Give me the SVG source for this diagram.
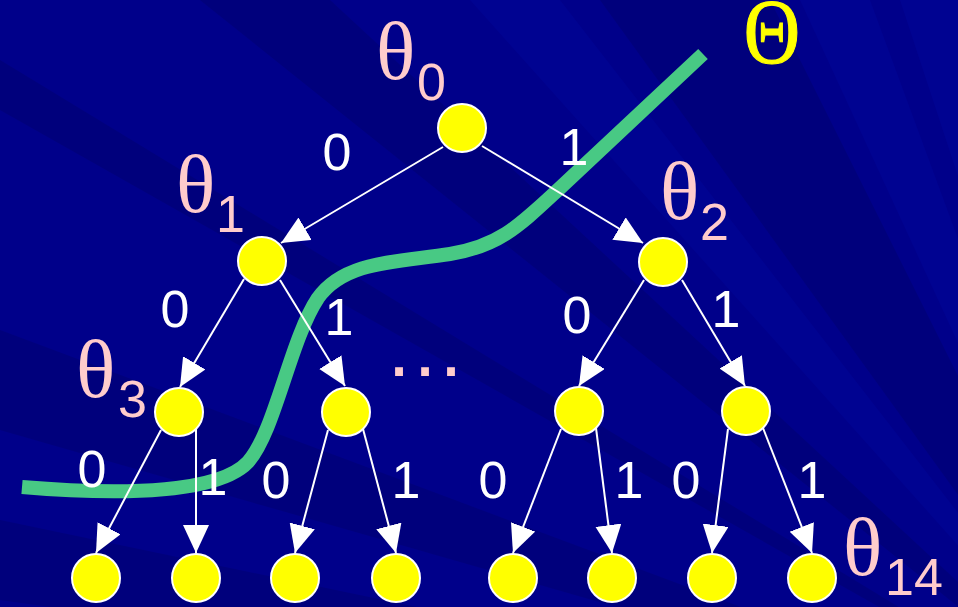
<svg xmlns="http://www.w3.org/2000/svg" width="958" height="607" viewBox="0 0 958 607">
<defs>
<style>
.bg-d{fill:#00005c;opacity:0.3}
.bg-l{fill:#0010b8;opacity:0.16}
.node{fill:#ffff00;stroke:#ffffff;stroke-width:2}
.edge{stroke:#ffffff;stroke-width:2;fill:none;marker-end:url(#ah)}
.lbl{font-family:"Liberation Sans",Arial,sans-serif;font-size:52px;fill:#ffffff;text-anchor:middle}
.th{font-family:"Liberation Serif","Times New Roman",serif;font-size:82px;fill:#ffcccc}
.sub{font-family:"Liberation Sans",Arial,sans-serif;font-size:52px;fill:#ffcccc}
</style>
<marker id="ah" markerUnits="userSpaceOnUse" markerWidth="30" markerHeight="28" refX="28" refY="13" orient="auto">
<path d="M0,0 L28,13 L0,26 Z" fill="#ffffff"/>
</marker>
</defs>
<g id="background">
<rect x="0" y="0" width="958" height="607" fill="#00008a"/>
<polygon class="bg-d" points="1150,760 -1700,-1520 -1310,-1520"/>
<polygon class="bg-l" points="1150,760 -890,-1520 -620,-1520"/>
<polygon class="bg-d" points="1150,760 -500,-1520 10,-1520"/>
<polygon class="bg-l" points="1150,760 100,-1520 310,-1520"/>
<polygon class="bg-l" points="1150,760 400,-1520 700,-1520"/>
<polygon class="bg-d" points="1150,760 -2300,-1340 -2300,-1190"/>
<polygon class="bg-d" points="1150,760 -2300,-530 -2300,-230"/>
<polygon class="bg-d" points="1150,760 -2300,40 -2300,280"/>
</g>
<g id="cut-curve">
<path d="M22,487 C130,496 220,492 248,462 C275,432 290,340 318,298 C345,260 400,262 450,254 C500,246 520,225 560,188 L703,54" fill="none" stroke="#48c984" stroke-width="14"/>
</g>
<g id="connectors">
<line class="edge" x1="443" y1="147" x2="281" y2="243"/>
<line class="edge" x1="482" y1="146" x2="643" y2="243"/>
<line class="edge" x1="244" y1="279" x2="180" y2="387"/>
<line class="edge" x1="280" y1="280" x2="345" y2="386"/>
<line class="edge" x1="644" y1="280" x2="579" y2="386"/>
<line class="edge" x1="682" y1="280" x2="745" y2="386"/>
<line class="edge" x1="161" y1="430" x2="96" y2="553"/>
<line class="edge" x1="196" y1="429" x2="196" y2="553"/>
<line class="edge" x1="328" y1="430" x2="295" y2="553"/>
<line class="edge" x1="363" y1="429" x2="396" y2="553"/>
<line class="edge" x1="561" y1="429" x2="513" y2="553"/>
<line class="edge" x1="596" y1="428" x2="612" y2="553"/>
<line class="edge" x1="728" y1="429" x2="712" y2="553"/>
<line class="edge" x1="763" y1="428" x2="812" y2="553"/>
</g>
<g id="edge-labels">
<text class="lbl" x="337" y="170">0</text>
<text class="lbl" x="574" y="165">1</text>
<text class="lbl" x="175" y="327">0</text>
<text class="lbl" x="339" y="335">1</text>
<text class="lbl" x="577" y="333">0</text>
<text class="lbl" x="726" y="327">1</text>
<text class="lbl" x="92" y="487">0</text>
<text class="lbl" x="213" y="495">1</text>
<text class="lbl" x="276" y="498">0</text>
<text class="lbl" x="406" y="498">1</text>
<text class="lbl" x="493" y="498">0</text>
<text class="lbl" x="629" y="498">1</text>
<text class="lbl" x="686" y="498">0</text>
<text class="lbl" x="812" y="498">1</text>
</g>
<g id="n0"><circle class="node" cx="462" cy="128" r="24"/><text class="th" x="376" y="79">θ</text><text class="sub" x="417" y="100">0</text></g>
<g id="n1"><circle class="node" cx="262" cy="261" r="24"/><text class="th" x="176" y="212">θ</text><text class="sub" x="216" y="232">1</text></g>
<g id="n2"><circle class="node" cx="663" cy="262" r="24"/><text class="th" x="660" y="219">θ</text><text class="sub" x="700" y="240">2</text></g>
<g id="n3"><circle class="node" cx="179" cy="412" r="24"/><text class="th" x="76" y="397">θ</text><text class="sub" x="118" y="417">3</text></g>
<g id="n4"><circle class="node" cx="346" cy="412" r="24"/></g>
<g id="n5"><circle class="node" cx="579" cy="411" r="24"/></g>
<g id="n6"><circle class="node" cx="746" cy="411" r="24"/></g>
<g id="n7"><circle class="node" cx="96" cy="578" r="24"/></g>
<g id="n8"><circle class="node" cx="196" cy="578" r="24"/></g>
<g id="n9"><circle class="node" cx="295" cy="578" r="24"/></g>
<g id="n10"><circle class="node" cx="396" cy="578" r="24"/></g>
<g id="n11"><circle class="node" cx="513" cy="578" r="24"/></g>
<g id="n12"><circle class="node" cx="612" cy="578" r="24"/></g>
<g id="n13"><circle class="node" cx="712" cy="578" r="24"/></g>
<g id="n14"><circle class="node" cx="812" cy="578" r="24"/><text class="th" x="843" y="575">θ</text><text class="sub" x="885" y="595">14</text></g>
<g id="ellipsis"><text x="425" y="376" font-family="Liberation Sans, Arial, sans-serif" font-size="82" fill="#ffcccc" text-anchor="middle">…</text></g>
<g id="Theta"><text transform="translate(772,63) scale(1,1.18)" x="0" y="0" font-family="Liberation Serif, Times New Roman, serif" font-size="78" fill="#ffff00" stroke="#ffff00" stroke-width="1" text-anchor="middle">Θ</text></g>
</svg>
